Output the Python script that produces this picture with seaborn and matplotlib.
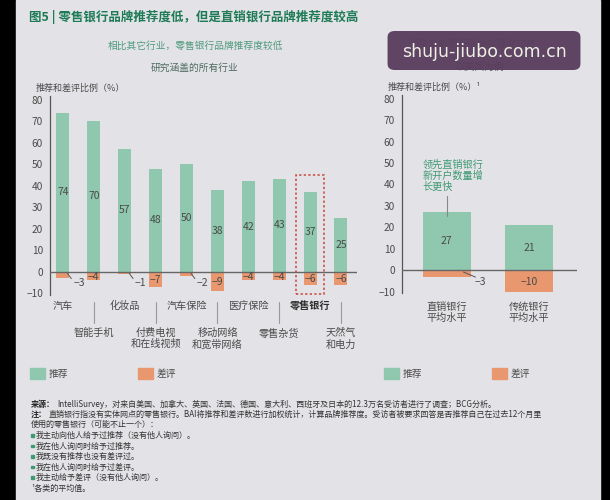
"""Retail bank recommendation vs other industries"""
import matplotlib
matplotlib.use("Agg")
import matplotlib.pyplot as plt
from matplotlib.patches import Rectangle, FancyBboxPatch
import pandas as pd
import seaborn as sns

industries = ["汽车", "智能手机", "化妆品", "付费电视\n和在线视频", "汽车保险",
              "移动网络\n和宽带网络", "医疗保险", "零售杂货", "零售银行", "天然气\n和电力"]
recommend = [74, 70, 57, 48, 50, 38, 42, 43, 37, 25]
detract = [-3, -4, -1, -7, -2, -9, -4, -4, -6, -6]

banks = ["直销银行\n平均水平", "传统银行\n平均水平"]
bank_recommend = [27, 21]
bank_detract = [-3, -10]

yticks = [-10, 0, 10, 20, 30, 40, 50, 60, 70, 80]

GREEN = "#8fc8ae"
ORANGE = "#e8976f"
BG = "#e3e3e7"
TXT = "#4a4a4a"

sns.set_style("white")
plt.rcParams["font.family"] = ["Noto Sans CJK SC", "DejaVu Sans"]
plt.rcParams["axes.unicode_minus"] = True

W, H = 610, 500
fig = plt.figure(figsize=(W / 100, H / 100), dpi=100, facecolor="black")
fig.patches.append(Rectangle((16 / W, 0), (600 - 16) / W, 1, transform=fig.transFigure,
                             color=BG, zorder=-5))


def fx(px):
    return px / W


def fy(py):
    return 1 - py / H


def fmt(v):
    return f"\u2212{abs(v)}" if v < 0 else str(v)


def draw_panel(ax, names, pos, neg, width, outside_off):
    df_p = pd.DataFrame({"name": names, "v": pos})
    df_n = pd.DataFrame({"name": names, "v": neg})
    sns.barplot(data=df_p, x="name", y="v", order=names, color=GREEN, width=width,
                saturation=1, linewidth=0, ax=ax)
    sns.barplot(data=df_n, x="name", y="v", order=names, color=ORANGE, width=width,
                saturation=1, linewidth=0, ax=ax)
    ax.set_facecolor("none")
    ax.set_ylim(-10.6, 81.5)
    ax.set_yticks(yticks)
    ax.set_yticklabels([fmt(t) for t in yticks], fontsize=7.3, color=TXT)
    ax.tick_params(axis="y", length=0, pad=5)
    ax.set_xticks([])
    ax.set_xlabel("")
    ax.set_ylabel("")
    for s in ["top", "right", "bottom"]:
        ax.spines[s].set_visible(False)
    ax.spines["left"].set_color("#555555")
    ax.spines["left"].set_linewidth(0.9)
    ax.axhline(0, color="#666666", lw=1.0, zorder=3)
    for i, (p, n) in enumerate(zip(pos, neg)):
        ax.text(i, p / 2, fmt(p), ha="center", va="center", fontsize=7.5, color=TXT, zorder=4)
        if n <= -4:
            ax.text(i, n / 2 - 0.3, fmt(n), ha="center", va="center", fontsize=7.5,
                    color=TXT, zorder=4)
        else:
            ax.plot([i + width * 0.35, i + width * 0.5 + 0.06], [-0.8, -3.2],
                    color="#555555", lw=0.7, zorder=4)
            ax.text(i + outside_off, -5.3, fmt(n), ha="left", va="center", fontsize=7.5,
                    color=TXT, zorder=4)


# left panel
ax1 = fig.add_axes([fx(50), fy(294.5), fx(307), (294.5 - 96.5) / H])
draw_panel(ax1, industries, recommend, detract, 0.42, 0.33)
ax1.set_xlim(-0.42, 9.52)

for i, name in enumerate(industries):
    if i % 2 == 0:
        bold = name == "零售银行"
        ax1.text(i, -16.0, name, ha="center", va="center", fontsize=7.3,
                 color="#2e2e2e" if bold else TXT, fontweight="bold" if bold else "normal",
                 clip_on=False)
    else:
        ax1.plot([i, i], [-14.3, -24.0], color="#999999", lw=0.8, clip_on=False)
        ax1.text(i, -26.2, name, ha="center", va="top", fontsize=7.3, color=TXT,
                 linespacing=1.15, clip_on=False)

ax1.add_patch(Rectangle((8 - 0.46, -10.2), 0.92, 55.2, fill=False, edgecolor="#c8463a",
                        lw=1.1, linestyle=(0, (1.5, 1.5)), clip_on=False, zorder=5))

# right panel
ax2 = fig.add_axes([fx(402), fy(293), fx(175), (293 - 95.5) / H])
draw_panel(ax2, banks, bank_recommend, bank_detract, 0.58, 0.34)
ax2.set_xlim(-0.543, 1.583)
for i, name in enumerate(banks):
    ax2.text(i, -14.8, name, ha="center", va="top", fontsize=7.3, color=TXT,
             linespacing=1.15, clip_on=False)
ax2.text(-0.29, 51.5, "领先直销银行\n新开户数量增\n长更快", ha="left", va="top", fontsize=7.3,
         color="#3f9a72", linespacing=1.1)
ax2.plot([0, 0], [34.5, 25.5], color="#888888", lw=0.8)

# titles and axis captions
fig.text(fx(29), fy(17), "图5 | 零售银行品牌推荐度低，但是直销银行品牌推荐度较高",
         fontsize=9, fontweight="bold", color="#1e7b56", va="center", ha="left")
fig.text(fx(195), fy(46), "相比其它行业，零售银行品牌推荐度较低", fontsize=7,
         color="#4f9a7c", ha="center", va="center")
fig.text(fx(195), fy(68), "研究涵盖的所有行业", fontsize=7, color="#4e6a5f",
         ha="center", va="center")
fig.text(fx(473), fy(44), "但是直销银行品牌推荐度较高", fontsize=7, color="#4f9a7c",
         ha="center", va="center")
fig.text(fx(480), fy(67), "以英国为例", fontsize=7, color="#4e6a5f",
         ha="center", va="center")
fig.text(fx(36), fy(88), "推荐和差评比例（%）", fontsize=6.5, color=TXT,
         ha="left", va="center")
fig.text(fx(388), fy(87), "推荐和差评比例（%）¹", fontsize=6.5, color=TXT,
         ha="left", va="center")

# legends
for x0 in (30, 384):
    fig.patches.append(Rectangle((fx(x0), fy(379)), fx(15), 11 / H,
                                 transform=fig.transFigure, color=GREEN))
    fig.text(fx(x0 + 19), fy(373.5), "推荐", fontsize=7, color=TXT, va="center")
    fig.patches.append(Rectangle((fx(x0 + 108), fy(379)), fx(15), 11 / H,
                                 transform=fig.transFigure, color=ORANGE))
    fig.text(fx(x0 + 127), fy(373.5), "差评", fontsize=7, color=TXT, va="center")

# footnotes
FN = 5.8
fig.text(fx(31), fy(404), "来源：", fontsize=FN, fontweight="bold", color="#222222", va="center")
fig.text(fx(57), fy(404), "IntelliSurvey，对来自美国、加拿大、英国、法国、德国、意大利、西班牙及日本的"
         "12.3万名受访者进行了调查；BCG分析。", fontsize=FN, color="#333333", va="center")
fig.text(fx(31), fy(414), "注：", fontsize=FN, fontweight="bold", color="#222222", va="center")
fig.text(fx(49), fy(414), "直销银行指没有实体网点的零售银行。BAI将推荐和差评数进行加权统计，"
         "计算品牌推荐度。受访者被要求回答是否推荐自己在过去12个月里", fontsize=FN,
         color="#333333", va="center")
fig.text(fx(31), fy(424.5), "使用的零售银行（可能不止一个）：", fontsize=FN, color="#333333",
         va="center")
bullets = ["我主动向他人给予过推荐（没有他人询问）。", "我在他人询问时给予过推荐。",
           "我既没有推荐也没有差评过。", "我在他人询问时给予过差评。",
           "我主动给予差评（没有他人询问）。"]
for k, b in enumerate(bullets):
    yy = 435.5 + k * 10.5
    fig.patches.append(Rectangle((fx(31), fy(yy + 1.3)), fx(2.6), 2.6 / H,
                                 transform=fig.transFigure, color="#3f9a72"))
    fig.text(fx(36), fy(yy), b, fontsize=FN, color="#333333", va="center")
fig.text(fx(31), fy(488), "¹各类的平均值。", fontsize=FN, color="#333333", va="center")

# watermark
fig.patches.append(FancyBboxPatch((fx(390), fy(68)), fx(188), 35 / H,
                                  boxstyle="round,pad=0.004,rounding_size=0.012",
                                  transform=fig.transFigure, facecolor="#5a3d5e",
                                  edgecolor="none", alpha=0.96, zorder=10))
fig.text(fx(484), fy(52), "shuju-jiubo.com.cn", fontsize=12.5, color="#eef0e4",
         family="DejaVu Sans", ha="center", va="center", zorder=11)

fig.savefig("out.png", dpi=100, facecolor=fig.get_facecolor())
